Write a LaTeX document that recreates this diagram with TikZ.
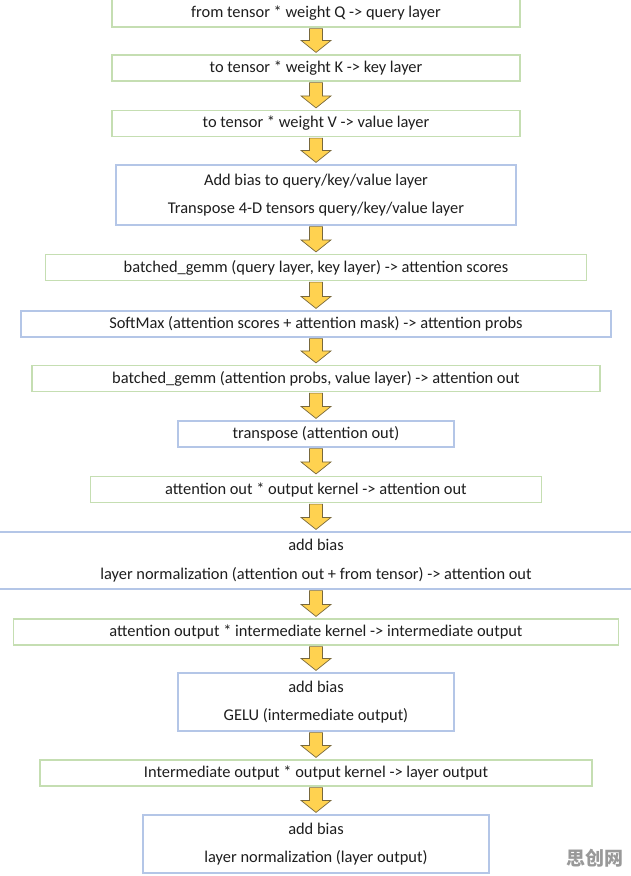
\documentclass[tikz,border=0pt]{standalone}
\usepackage{fontspec}
\setmainfont{Carlito}
\newfontfamily\cjk{Noto Sans CJK SC}
\usepackage{tikz}
\usetikzlibrary{calc}
\definecolor{boxgreen}{RGB}{197, 222, 178}
\definecolor{boxblue}{RGB}{180, 198, 231}
\definecolor{arrowfill}{RGB}{255, 210, 80}
\definecolor{arrowline}{RGB}{120, 104, 60}
\definecolor{textgray}{RGB}{30, 30, 30}

\begin{document}
\begin{tikzpicture}[
    x=1pt, y=-1pt,
    stage/.style={rectangle, draw=boxgreen, line width=1.2pt, fill=white, minimum height=26pt, inner sep=0pt, text=textgray, align=center, font=\fontsize{16.4}{28.5}\selectfont},
    stagetwo/.style={stage, draw=boxblue, minimum height=58pt},
    fatarrow/.style={draw=arrowline, fill=arrowfill, line width=0.7pt, line join=miter,
        to path={($(\tikztostart)+(-6.5,1)$) -- ($(\tikztotarget)+(-6.5,-14)$) -- ($(\tikztotarget)+(-15,-14)$) -- ($(\tikztotarget)+(0,-2)$) -- ($(\tikztotarget)+(15,-14)$) -- ($(\tikztotarget)+(6.5,-14)$) -- ($(\tikztostart)+(6.5,1)$) -- cycle}}
]
    \useasboundingbox (0,0) rectangle (630,876);

    % projections
    \node[stage, minimum width=408pt, minimum height=28pt] (q) at (316,13) {from tensor * weight Q -> query layer};
    \node[stage, minimum width=408pt] (k) at (316,68) {to tensor * weight K -> key layer};
    \node[stage, minimum width=408pt] (v) at (316,123.5) {to tensor * weight V -> value layer};
    \node[stagetwo, minimum width=400pt, minimum height=60pt] (bias) at (316,195) {Add bias to query/key/value layer\\Transpose 4-D tensors query/key/value layer};

    % attention
    \node[stage, minimum width=541pt] (scores) at (316,267.5) {batched\_gemm (query layer, key layer) -> attention scores};
    \node[stage, draw=boxblue, minimum width=590pt] (probs) at (316,324) {SoftMax (attention scores + attention mask) -> attention probs};
    \node[stage, minimum width=568pt] (ctx) at (316,378.5) {batched\_gemm (attention probs, value layer) -> attention out};
    \node[stage, draw=boxblue, minimum width=276pt] (trans) at (316,434) {transpose (attention out)};
    \node[stage, minimum width=451pt] (attout) at (316,489.5) {attention out * output kernel -> attention out};
    \node[stagetwo, minimum width=650pt, minimum height=57pt] (norm1) at (316,560.5) {add bias\\layer normalization (attention out + from tensor) -> attention out};

    % feed forward
    \node[stage, minimum width=605pt] (inter) at (316,632) {attention output * intermediate kernel -> intermediate output};
    \node[stagetwo, minimum width=276pt] (gelu) at (316,702) {add bias\\GELU (intermediate output)};
    \node[stage, minimum width=552pt] (layerout) at (316,773) {Intermediate output * output kernel -> layer output};
    \node[stagetwo, minimum width=346pt] (norm2) at (316,844) {add bias\\layer normalization (layer output)};

    % block arrows
    \foreach \a/\b in {q/k, k/v, v/bias, bias/scores, scores/probs, probs/ctx, ctx/trans, trans/attout, attout/norm1, norm1/inter, inter/gelu, gelu/layerout, layerout/norm2}
        \draw[fatarrow] (\a.south) to (\b.north);

    \node[text=black!40, font=\cjk\bfseries\fontsize{19}{19}\selectfont] (mark) at (595,858) {思创网};
\end{tikzpicture}
\end{document}
